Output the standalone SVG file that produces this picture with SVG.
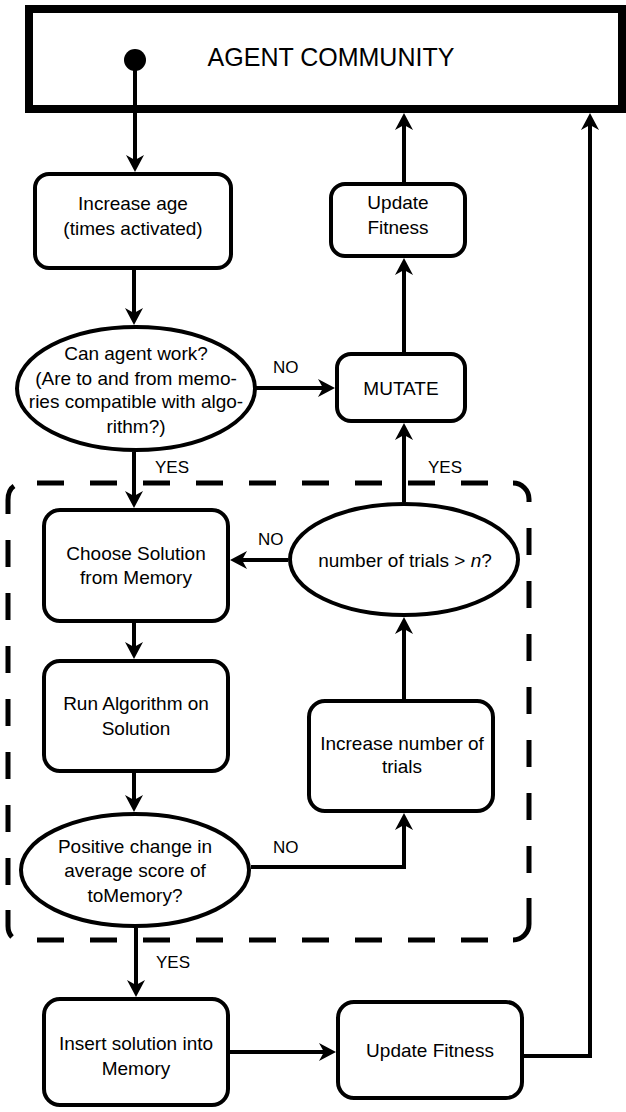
<svg xmlns="http://www.w3.org/2000/svg" width="626" height="1112" viewBox="0 0 626 1112">
<style>
  .box{fill:#fff;stroke:#000;stroke-width:4}
  .t{font-family:"Liberation Sans",Arial,sans-serif;font-size:19px;fill:#000;text-anchor:middle}
  .lbl{font-family:"Liberation Sans",Arial,sans-serif;font-size:17px;fill:#000}
  .c{fill:none;stroke:#000;stroke-width:4;marker-end:url(#ah)}
  .d{fill:none;stroke:#000;stroke-width:5}
  .dd{fill:none;stroke:#000;stroke-width:5;stroke-dasharray:27 26}
</style>
<defs>
  <marker id="ah" markerUnits="userSpaceOnUse" viewBox="-18 -10 20 20" markerWidth="20" markerHeight="20" refX="-10" refY="0" orient="auto" overflow="visible">
    <path d="M0,0 L-17,-9 L-12,0 L-17,9 Z" fill="#000"/>
  </marker>
</defs>
<rect width="626" height="1112" fill="#fff"/>

<g id="loop-boundary">
  <path class="dd" d="M37,483 H513"/>
  <path class="d" d="M513,483 A16,16 0 0 1 529,499 V501"/>
  <path class="dd" d="M529,501 V898" stroke-dashoffset="26"/>
  <path class="d" d="M529,898 V924 A16,16 0 0 1 513,940"/>
  <path class="dd" d="M37,940 H513"/>
  <path class="d" d="M14,486 Q8,490 8,500 V513"/>
  <path class="dd" d="M8,513 V910" stroke-dashoffset="26"/>
  <path class="d" d="M8,910 V926 Q8,933 12,937"/>
</g>

<g id="agent-community">
  <rect x="29" y="9" width="593" height="100" fill="#fff" stroke="#000" stroke-width="8"/>
  <text x="331" y="66" class="t" style="font-size:25px">AGENT COMMUNITY</text>
</g>

<g id="connectors">
  <path class="c" d="M135,60 V162"/>
  <path class="c" d="M134,270 V315"/>
  <path class="c" d="M255,388 H325"/>
  <path class="c" d="M134,452 V498"/>
  <path class="c" d="M404,352 V268"/>
  <path class="c" d="M404,182 V123"/>
  <path class="c" d="M404,502 V433"/>
  <path class="c" d="M288,560 H240"/>
  <path class="c" d="M134,623 V649"/>
  <path class="c" d="M134,773 V802"/>
  <path class="c" d="M251,867 H404 V823"/>
  <path class="c" d="M404,699 V627"/>
  <path class="c" d="M136,928 V987"/>
  <path class="c" d="M230,1052 H326"/>
  <path class="c" d="M524,1056 H590 V123"/>
  <circle cx="135" cy="60" r="11" fill="#000"/>
</g>

<g id="labels">
  <text x="273" y="373" class="lbl">NO</text>
  <text x="155" y="473" class="lbl">YES</text>
  <text x="428" y="473" class="lbl">YES</text>
  <text x="258" y="545" class="lbl">NO</text>
  <text x="273" y="853" class="lbl">NO</text>
  <text x="156" y="968" class="lbl">YES</text>
</g>

<g id="increase-age">
  <rect class="box" x="35" y="174" width="196" height="94" rx="14"/>
  <text x="133" y="210" class="t">Increase age</text>
  <text x="133" y="235" class="t">(times activated)</text>
</g>

<g id="update-fitness-top">
  <rect class="box" x="331" y="184" width="134" height="72" rx="14"/>
  <text x="398" y="209" class="t">Update</text>
  <text x="398" y="234" class="t">Fitness</text>
</g>

<g id="can-agent-work">
  <ellipse class="box" cx="136" cy="388.5" rx="119" ry="61.5"/>
  <text x="136" y="360" class="t">Can agent work?</text>
  <text x="136" y="385" class="t">(Are to and from memo-</text>
  <text x="136" y="408" class="t">ries compatible with algo-</text>
  <text x="136" y="433" class="t">rithm?)</text>
</g>

<g id="mutate">
  <rect class="box" x="337" y="354" width="128" height="67" rx="14"/>
  <text x="401" y="395" class="t">MUTATE</text>
</g>

<g id="number-of-trials">
  <ellipse class="box" cx="404" cy="559.5" rx="114" ry="55.5"/>
  <text x="405" y="567" class="t">number of trials &gt; <tspan font-style="italic">n</tspan>?</text>
</g>

<g id="choose-solution">
  <rect class="box" x="44" y="510" width="184" height="111" rx="16"/>
  <text x="136" y="560" class="t">Choose Solution</text>
  <text x="136" y="584" class="t">from Memory</text>
</g>

<g id="run-algorithm">
  <rect class="box" x="44" y="661" width="184" height="110" rx="16"/>
  <text x="136" y="710" class="t">Run Algorithm on</text>
  <text x="136" y="735" class="t">Solution</text>
</g>

<g id="increase-trials">
  <rect class="box" x="309" y="701" width="184" height="110" rx="16"/>
  <text x="402" y="750" class="t">Increase number of</text>
  <text x="402" y="773" class="t">trials</text>
</g>

<g id="positive-change">
  <ellipse class="box" cx="135" cy="870" rx="114" ry="56"/>
  <text x="135" y="853" class="t">Positive change in</text>
  <text x="135" y="877" class="t">average score of</text>
  <text x="135" y="902" class="t">toMemory?</text>
</g>

<g id="insert-solution">
  <rect class="box" x="44" y="999" width="184" height="106" rx="16"/>
  <text x="136" y="1050" class="t">Insert solution into</text>
  <text x="136" y="1075" class="t">Memory</text>
</g>

<g id="update-fitness-bottom">
  <rect class="box" x="338" y="1002" width="184" height="96" rx="16"/>
  <text x="430" y="1057" class="t">Update Fitness</text>
</g>
</svg>
